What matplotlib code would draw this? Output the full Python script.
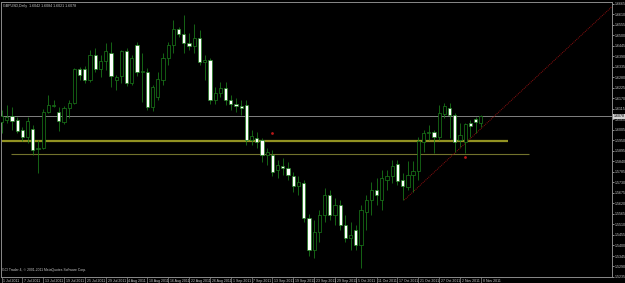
import matplotlib
matplotlib.use("Agg")
import matplotlib.pyplot as plt
import matplotlib.transforms as mtransforms

symbol = "GBPUSD,Daily"

# daily OHLC, 1 Jul 2011 .. 8 Nov 2011 (one entry per trading day)
opens = [1.6047, 1.6057, 1.6078, 1.6057, 1.6005, 1.5968, 1.6010, 1.5905, 1.5911, 1.6099,
         1.6133, 1.6099, 1.6047, 1.6120, 1.6146, 1.6325, 1.6325, 1.6267, 1.6398, 1.6325,
         1.6366, 1.6408, 1.6267, 1.6288, 1.6419, 1.6251, 1.6450, 1.6309, 1.6309, 1.6126,
         1.6178, 1.6267, 1.6382, 1.6450, 1.6534, 1.6508, 1.6461, 1.6445, 1.6487, 1.6361,
         1.6372, 1.6162, 1.6200, 1.6225, 1.6162, 1.6141, 1.6131, 1.6136, 1.5953, 1.5963,
         1.5953, 1.5874, 1.5874, 1.5796, 1.5817, 1.5806, 1.5764, 1.5712, 1.5727, 1.5544,
         1.5377, 1.5471, 1.5560, 1.5665, 1.5560, 1.5612, 1.5507, 1.5439, 1.5481, 1.5403,
         1.5576, 1.5638, 1.5691, 1.5638, 1.5743, 1.5764, 1.5827, 1.5743, 1.5706, 1.5769,
         1.5790, 1.5942, 1.5989, 1.5995, 1.5968, 1.6089, 1.6120, 1.6084, 1.5953, 1.5942,
         1.6042, 1.6063, 1.6042]
highs = [1.6110, 1.6136, 1.6126, 1.6073, 1.6021, 1.6073, 1.6031, 1.5953, 1.6115, 1.6188,
         1.6162, 1.6126, 1.6131, 1.6162, 1.6330, 1.6335, 1.6340, 1.6424, 1.6435, 1.6398,
         1.6461, 1.6466, 1.6293, 1.6424, 1.6435, 1.6398, 1.6466, 1.6408, 1.6330, 1.6241,
         1.6309, 1.6408, 1.6466, 1.6581, 1.6545, 1.6607, 1.6513, 1.6560, 1.6529, 1.6398,
         1.6380, 1.6230, 1.6256, 1.6256, 1.6188, 1.6173, 1.6162, 1.6162, 1.6005, 1.5995,
         1.5963, 1.5911, 1.5900, 1.5848, 1.5858, 1.5837, 1.5785, 1.5764, 1.5743, 1.5565,
         1.5534, 1.5586, 1.5701, 1.5691, 1.5649, 1.5638, 1.5560, 1.5523, 1.5507, 1.5612,
         1.5665, 1.5733, 1.5754, 1.5796, 1.5796, 1.5848, 1.5848, 1.5780, 1.5843, 1.5843,
         1.5968, 1.6005, 1.6031, 1.6005, 1.6136, 1.6146, 1.6146, 1.6094, 1.6042, 1.6042,
         1.6057, 1.6073, 1.6084]
lows = [1.5989, 1.6042, 1.6005, 1.5989, 1.5948, 1.5937, 1.5874, 1.5780, 1.5905, 1.6094,
        1.6126, 1.6000, 1.6036, 1.6068, 1.6141, 1.6267, 1.6251, 1.6256, 1.6309, 1.6283,
        1.6319, 1.6230, 1.6215, 1.6251, 1.6236, 1.6241, 1.6288, 1.6152, 1.6110, 1.6105,
        1.6162, 1.6241, 1.6346, 1.6408, 1.6492, 1.6408, 1.6424, 1.6408, 1.6346, 1.6267,
        1.6141, 1.6141, 1.6178, 1.6136, 1.6110, 1.6099, 1.6084, 1.5926, 1.5926, 1.5911,
        1.5837, 1.5822, 1.5764, 1.5754, 1.5769, 1.5743, 1.5680, 1.5665, 1.5523, 1.5345,
        1.5335, 1.5418, 1.5523, 1.5534, 1.5507, 1.5481, 1.5418, 1.5377, 1.5377, 1.5282,
        1.5481, 1.5560, 1.5612, 1.5586, 1.5691, 1.5727, 1.5717, 1.5638, 1.5691, 1.5680,
        1.5743, 1.5890, 1.5953, 1.5885, 1.5953, 1.6068, 1.5963, 1.5890, 1.5916, 1.5885,
        1.5968, 1.5989, 1.6021]
closes = [1.6078, 1.6073, 1.6052, 1.6000, 1.5968, 1.6052, 1.5900, 1.5911, 1.6099, 1.6136,
          1.6138, 1.6052, 1.6120, 1.6146, 1.6325, 1.6293, 1.6267, 1.6398, 1.6325, 1.6366,
          1.6419, 1.6288, 1.6283, 1.6419, 1.6251, 1.6382, 1.6309, 1.6314, 1.6126, 1.6230,
          1.6272, 1.6382, 1.6450, 1.6534, 1.6508, 1.6461, 1.6445, 1.6487, 1.6361, 1.6372,
          1.6162, 1.6200, 1.6225, 1.6162, 1.6141, 1.6131, 1.6120, 1.5953, 1.5974, 1.5942,
          1.5874, 1.5890, 1.5785, 1.5822, 1.5806, 1.5769, 1.5712, 1.5733, 1.5544, 1.5377,
          1.5471, 1.5560, 1.5665, 1.5560, 1.5612, 1.5507, 1.5439, 1.5455, 1.5403, 1.5586,
          1.5638, 1.5691, 1.5665, 1.5754, 1.5764, 1.5817, 1.5738, 1.5712, 1.5769, 1.5790,
          1.5948, 1.5989, 1.5995, 1.5968, 1.6094, 1.6131, 1.6084, 1.5942, 1.5979, 1.6036,
          1.6026, 1.6047, 1.6078]

# date labels, one every 4 bars
date_labels = ["1 Jul 2011", "7 Jul 2011", "13 Jul 2011", "19 Jul 2011", "25 Jul 2011",
               "29 Jul 2011", "4 Aug 2011", "10 Aug 2011", "16 Aug 2011", "22 Aug 2011",
               "26 Aug 2011", "1 Sep 2011", "7 Sep 2011", "13 Sep 2011", "19 Sep 2011",
               "23 Sep 2011", "29 Sep 2011", "5 Oct 2011", "11 Oct 2011", "17 Oct 2011",
               "21 Oct 2011", "27 Oct 2011", "2 Nov 2011", "8 Nov 2011"]
label_every = 4

price_tick_first = 1.5235
price_tick_step = 0.0055
price_tick_count = 27

# drawn objects
thick_level = 1.5948
thick_span = [-0.5, 97.2]
thin_level = 1.5879
thin_span = [1.8, 101.2]
trend_bars = [77.3, 117.2]
trend_prices = [1.5638, 1.6652]
mark_bars = [52, 89]
mark_prices = [1.5989, 1.5864]

BG = "black"
CANDLE = "#1b7f1b"
FG = "#c8c8c8"
GRID = "#8a8a8a"

fig = plt.figure(figsize=(6.25, 2.83), dpi=100, facecolor=BG)
ax = fig.add_axes([1 / 625, 6 / 283, 611 / 625, 275 / 283], facecolor=BG)

n = len(closes)
xs = list(range(n))
body_w = 0.62

# wicks first so bodies cover them
ax.vlines(xs, lows, highs, color=CANDLE, linewidth=0.55, zorder=3)
for i in xs:
    o, c = opens[i], closes[i]
    bottom = min(o, c)
    height = max(abs(c - o), 0.00008)
    face = BG if c >= o else "white"
    ax.bar(i, height, bottom=bottom, width=body_w, color=face,
           edgecolor=CANDLE, linewidth=0.5, zorder=4)

# horizontal levels and trend line
ax.hlines(thick_level, thick_span[0], thick_span[1], color="#929222", linewidth=1.6, zorder=2)
ax.hlines(thin_level, thin_span[0], thin_span[1], color="#72722c", linewidth=0.8, zorder=2)
ax.axhline(closes[-1], color="#808080", linewidth=0.7, zorder=1)
ax.plot(trend_bars, trend_prices, color="#8e1010", linewidth=0.7, linestyle=(0, (1, 1)), zorder=2)
ax.scatter(mark_bars, mark_prices, s=4, color="#b81818", zorder=5, linewidths=0)

xmin = -0.1
ax.set_xlim(xmin, xmin + 611 / 5.21)
ymin = price_tick_first
ax.set_ylim(ymin, ymin + 275 * price_tick_step / 10.5)

for sp in ax.spines.values():
    sp.set_color(GRID)
    sp.set_linewidth(0.7)

# price axis on the right
yt = [price_tick_first + k * price_tick_step for k in range(price_tick_count)]
ax.yaxis.tick_right()
ax.set_yticks(yt)
ax.set_yticklabels([f"{v:.4f}" for v in yt])
ax.tick_params(axis="y", colors=FG, labelsize=2.6, length=1.5, width=0.5, pad=0.6)
for lab in ax.get_yticklabels():
    lab.set_family("Liberation Sans")

# date axis: small tick, label to the right of it
xt = [k * label_every for k in range(len(date_labels))]
ax.set_xticks(xt)
ax.set_xticklabels([])
ax.tick_params(axis="x", colors=GRID, length=5, width=0.5)
trans = mtransforms.blended_transform_factory(ax.transData, ax.transAxes)
for x, lab in zip(xt, date_labels):
    ax.text(x + 0.35, -0.006, lab, transform=trans, ha="left", va="top",
            fontsize=2.5, color=FG, family="Liberation Sans", clip_on=False)

# current price box
ax.text(1.003, closes[-1], f"{closes[-1]:.4f}", transform=mtransforms.blended_transform_factory(ax.transAxes, ax.transData),
        ha="left", va="center", fontsize=2.6, color="black", family="Liberation Sans",
        bbox=dict(boxstyle="square,pad=0.15", facecolor="#d0d0d0", edgecolor="none"), clip_on=False)

title = f"{symbol}  {opens[-1]:.4f} {highs[-1]:.4f} {lows[-1]:.4f} {closes[-1]:.4f}"
ax.text(0.003, 0.994, title, transform=ax.transAxes, ha="left", va="top",
        fontsize=2.6, color=FG, family="Liberation Sans")
ax.text(0.002, 0.018, "GCI Trader 4, \u00a9 2001-2011 MetaQuotes Software Corp.", transform=ax.transAxes,
        ha="left", va="bottom", fontsize=2.4, color=FG, family="Liberation Sans")

fig.savefig("out.png", dpi=100, facecolor=BG)
